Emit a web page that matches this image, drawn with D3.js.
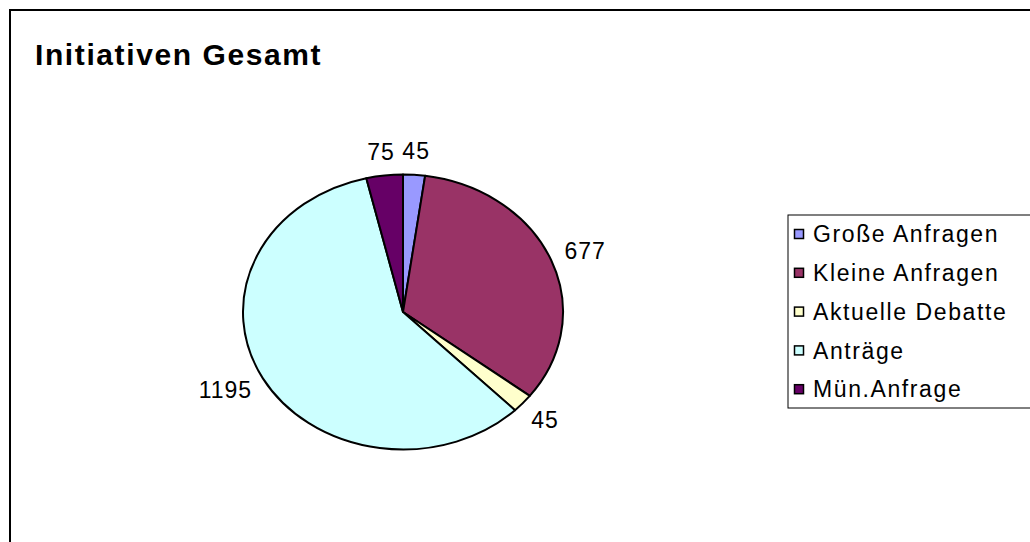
<!DOCTYPE html>
<html>
<head>
  <meta charset="utf-8">
  <title>Initiativen Gesamt</title>
  <script src="https://d3js.org/d3.v7.min.js"></script>
  <style>
    body { margin: 0; background: #fff; }
    svg { display: block; font-family: Arial, "Liberation Sans", sans-serif; }
  </style>
</head>
<body>
  <svg id="chart"></svg>

  <script>
    // data
    var categories = ["Große Anfragen", "Kleine Anfragen", "Aktuelle Debatte", "Anträge", "Mün.Anfrage"];
    var values = [45, 677, 45, 1195, 75];
    var colors = ["#9999FF", "#993366", "#FFFFCC", "#CCFFFF", "#660066"];

    var width = 1030, height = 542;

    var svg = d3.select("#chart")
      .attr("width", width)
      .attr("height", height);

    // chart area frame (right and bottom lie outside the picture)
    svg.append("rect")
      .attr("x", 10).attr("y", 10)
      .attr("width", 1100).attr("height", 700)
      .attr("fill", "#fff")
      .attr("stroke", "#000")
      .attr("stroke-width", 2);

    // title
    svg.append("text")
      .attr("x", 35).attr("y", 65)
      .attr("font-size", 30)
      .attr("font-weight", "bold")
      .attr("letter-spacing", 1.6)
      .text("Initiativen Gesamt");

    // pie is an ellipse: draw in a circle and squash vertically
    var cx = 403, cy = 312, rx = 160, ry = 137.5;
    var sy = ry / rx;

    var pie = d3.pie().sort(null).value(function(d) { return d; });
    var arcs = pie(values);
    var arc = d3.arc().innerRadius(0).outerRadius(rx);

    var g = svg.append("g")
      .attr("transform", "translate(" + cx + "," + cy + ") scale(1," + sy + ")");

    g.selectAll("path")
      .data(arcs)
      .enter()
      .append("path")
      .attr("d", arc)
      .attr("fill", function(d, i) { return colors[i]; })
      .attr("stroke", "#000")
      .attr("stroke-width", 2)
      .attr("stroke-linejoin", "round")
      .attr("vector-effect", "non-scaling-stroke");

    // data labels outside the ellipse
    var labelSize = 23, gap = 16;
    var labels = svg.append("g")
      .attr("font-size", labelSize)
      .attr("letter-spacing", 1);

    labels.selectAll("text")
      .data(arcs)
      .enter()
      .append("text")
      .attr("text-anchor", "middle")
      .attr("dy", "0.36em")
      .text(function(d) { return d.data; })
      .each(function(d) {
        var t = d3.select(this);
        var w = this.getComputedTextLength();
        var h = labelSize * 0.72;
        var a = (d.startAngle + d.endAngle) / 2;
        var ex = cx + rx * Math.sin(a);
        var ey = cy - ry * Math.cos(a);
        t.attr("x", ex + Math.sin(a) * (w / 2 + gap))
         .attr("y", ey - Math.cos(a) * (h / 2 + gap));
      });

    // legend
    var lx = 788, ly = 215, lw = 260, lh = 193, rowH = 38.8;
    var legend = svg.append("g");
    legend.append("rect")
      .attr("x", lx).attr("y", ly)
      .attr("width", lw).attr("height", lh)
      .attr("fill", "#fff")
      .attr("stroke", "#000")
      .attr("stroke-width", 1);

    var items = legend.selectAll("g.item")
      .data(categories)
      .enter()
      .append("g")
      .attr("class", "item")
      .attr("transform", function(d, i) { return "translate(" + lx + "," + (ly + 19 + i * rowH) + ")"; });

    items.append("rect")
      .attr("x", 6.5).attr("y", -4.5)
      .attr("width", 9).attr("height", 9)
      .attr("fill", function(d, i) { return colors[i]; })
      .attr("stroke", "#000")
      .attr("stroke-width", 1.5);

    items.append("text")
      .attr("x", 25)
      .attr("dy", "0.36em")
      .attr("font-size", 23)
      .attr("letter-spacing", 1.6)
      .text(function(d) { return d; });
  </script>
</body>
</html>
